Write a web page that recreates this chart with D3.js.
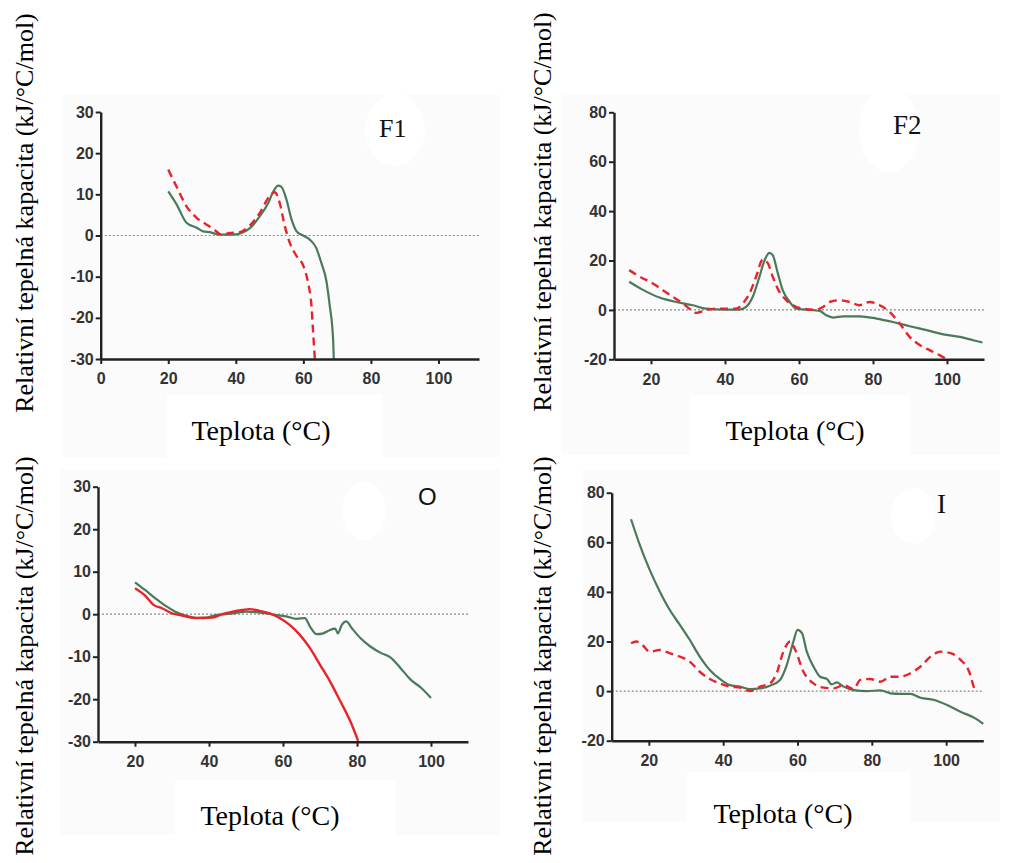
<!DOCTYPE html>
<html>
<head>
<meta charset="utf-8">
<script src="https://cdn.jsdelivr.net/npm/d3@7"></script>
<style>
  html, body { margin: 0; padding: 0; background: #fff; }
  svg { display: block; }
</style>
</head>
<body>
<svg id="chart" width="1011" height="863"></svg>
<script>
// Data: [temperature °C, relative heat capacity kJ/°C/mol]
const f1Green = [[20,10.7],[22.5,7.5],[25.4,3.1],[28.4,1.9],[30.3,1],[32.3,0.8],[35.3,0.2],[39.2,0.2],[42.2,0.8],[44.6,2.1],[47.1,4.7],[49.6,7.9],[51,10.5],[52.5,12.1],[53.5,11.8],[55,8.7],[56.5,3.9],[58,1],[59.9,0],[61.9,-1],[63.8,-3],[65.3,-6.6],[66.8,-11],[67.8,-17],[68.8,-25.2],[69,-30]];
const f1Red = [[20,16],[22.5,11.8],[25.4,7.1],[28.4,4.3],[31.3,2.7],[33.8,1.3],[35.8,0.2],[38.2,0.6],[41.2,0.8],[44.1,2.4],[47.1,5.5],[49.6,9.1],[51.5,10.5],[53,7.9],[54.5,2.3],[56,-1.8],[58,-5],[60,-7.4],[61.4,-11.5],[62.4,-17.1],[62.9,-23.6],[63.4,-30]];

const f2Green = [[14.1,11.4],[17.7,8.2],[22.3,5],[26.8,3.2],[31.3,1.9],[34.9,0.5],[40.3,0.1],[43.9,0.1],[45.7,1.2],[47.5,5.3],[49.3,13.4],[50.7,20.1],[52,23.1],[52.9,22.2],[54.3,14.7],[55.6,8],[57.5,3.2],[59.3,0.5],[62,0.1],[65.6,-0.4],[67.4,-2.2],[69.2,-3.1],[71.9,-2.6],[76.4,-2.6],[80.9,-3.5],[85.4,-4.9],[89.9,-6.6],[94.5,-8.2],[99,-9.9],[103.5,-10.9],[107.1,-12.3],[109.6,-13.2]];
const f2Red = [[14.1,16.1],[16.8,13.6],[20.5,10.7],[23.2,8],[25.9,5.3],[28.6,2.6],[30.4,0.5],[32.2,-1.2],[34.9,-0.1],[37.6,0.5],[40.3,0.5],[43,0.5],[44.8,2.6],[46.6,6.6],[48.4,13.4],[50.2,20.4],[51.6,18.8],[52.9,13.4],[54.7,7.3],[56.6,3.9],[58.4,1.9],[61.1,0.5],[64.7,0.1],[66.5,1.2],[68.3,3.2],[71,3.9],[73.7,3.2],[76.4,1.9],[79.1,3.2],[81.8,1.9],[84.5,-0.8],[87.2,-5.5],[89.9,-10.9],[92.7,-14.3],[95.4,-16.4],[98.1,-18.4],[99.7,-19.7]];

const oGreen = [[20,7.5],[22.7,5.7],[25.5,3.75],[28.2,2],[30.9,0.6],[33.6,-0.3],[36.4,-0.9],[39.1,-0.8],[41.8,-0.2],[44.5,0],[47.3,0.3],[50,0.6],[52.7,0.5],[55.5,0.2],[58.2,-0.2],[60.9,-0.5],[63.6,-1.1],[65.9,-0.9],[67.3,-2.9],[69.1,-4.7],[70.9,-4.5],[72.7,-3.7],[74.1,-3.4],[74.8,-4.5],[75.9,-2.5],[77.1,-1.7],[78.6,-3.3],[80.9,-5.6],[83.6,-7.6],[86.4,-9.1],[89.1,-10.2],[91.8,-12.7],[94.5,-15.4],[97.3,-17.3],[100,-19.7]];
const oRed = [[20,6.1],[22.7,4.4],[25,2.2],[27.3,1.4],[30,0.2],[32.7,-0.3],[35.5,-0.8],[38.2,-0.9],[40.9,-0.8],[43.6,0],[46.4,0.6],[49.1,1],[50.9,1.2],[53.6,0.8],[56.4,0.2],[59.1,-0.9],[61.8,-2.5],[64.5,-4.8],[67.3,-8],[70,-11.9],[72.7,-15.8],[75.5,-20.5],[78.2,-25.2],[80.3,-29.8]];

const iGreen = [[15.2,69.3],[17.5,59.2],[20.2,49],[22.9,40.3],[25.6,32.8],[28.3,26.8],[31,20.7],[33.7,13.9],[36.4,8.5],[39.1,4.9],[41.8,2.4],[44.5,1.8],[47.2,0.8],[49.9,1.1],[52.6,2.2],[55.3,4.5],[57.1,10.5],[58.9,20],[60,24.7],[61.2,23.4],[62.5,15.9],[64.3,9.9],[66.1,5.8],[67.9,4.9],[69.2,2.7],[70.6,3.5],[72.4,1.8],[75.1,0.4],[78.7,0],[82.3,0.3],[85,-0.9],[87.7,-1.1],[90.4,-1.1],[93.1,-2.7],[96.8,-3.6],[100.4,-5.7],[104,-8.4],[107.6,-10.8],[110,-13.2]];
const iRed = [[15.2,19.3],[16.6,20],[18.4,18.4],[20.2,15.9],[22.9,16.6],[25.6,15.3],[28.3,13.9],[31,11.9],[33.7,7.8],[36.4,4.9],[39.1,3.1],[41.8,1.8],[44.5,1.4],[47.2,0],[49.9,1.8],[52.6,3.1],[54.4,7.2],[56.2,15.9],[58,20],[59.4,16.6],[61.6,7.8],[64.3,3.1],[67,1.4],[69.8,1.1],[72.4,2.4],[75.1,0.8],[76.9,4.5],[79.6,4.9],[82.3,3.8],[85,5.8],[87.7,5.8],[90.4,7.2],[93.1,9.9],[95.8,13.9],[98.5,15.9],[101.2,15.3],[103.9,12.6],[106.2,7.8],[107.6,1.1],[108,0]];

// Tick labels
const xTicksF1 = [0, 20, 40, 60, 80, 100];
const xTicks = [20, 40, 60, 80, 100];
const yTicksSmall = [-30, -20, -10, 0, 10, 20, 30];
const yTicksLarge = [-20, 0, 20, 40, 60, 80];

const yLabelText = "Relativní tepelná kapacita (kJ/°C/mol)";
const xLabelText = "Teplota (°C)";

const GREEN = "#4b7a5b";
const RED = "#e8232b";

const panels = [
    { name: "F1", green: f1Green, red: f1Red, redDashed: true,
      xDomain: [0, 112], xRange: [100.7, 479], yDomain: [-30, 30], yRange: [359, 112],
      xTicks: xTicksF1, yTicks: yTicksSmall,
      bg: [62, 95, 438, 362], hole: [167, 395, 216, 62], blob: [395, 130, 30, 36],
      title: { x: 379, y: 137, font: "serif", size: 26 },
      yLab: { x: 33, cy: 213 }, xLab: { cx: 261, y: 440 } },
    { name: "F2", green: f2Green, red: f2Red, redDashed: true,
      xDomain: [10, 110], xRange: [614, 984], yDomain: [-20, 80], yRange: [359.3, 112.3],
      xTicks: xTicks, yTicks: yTicksLarge,
      bg: [562, 95, 438, 360], hole: [690, 395, 220, 62], blob: [889, 130, 30, 42],
      title: { x: 893, y: 134, font: "serif", size: 27 },
      yLab: { x: 551, cy: 212 }, xLab: { cx: 795, y: 440 } },
    { name: "O", green: oGreen, red: oRed, redDashed: false,
      xDomain: [10, 110], xRange: [98, 468], yDomain: [-30, 30], yRange: [741.7, 486.7],
      xTicks: xTicks, yTicks: yTicksSmall,
      bg: [60, 470, 440, 365], hole: [175, 780, 220, 60], blob: [364, 511, 22, 29],
      title: { x: 418, y: 505, font: "Liberation Sans, Arial, sans-serif", size: 24 },
      yLab: { x: 33, cy: 656 }, xLab: { cx: 270, y: 825 } },
    { name: "I", green: iGreen, red: iRed, redDashed: true,
      xDomain: [10, 110], xRange: [611.7, 983.3], yDomain: [-20, 80], yRange: [740.7, 492.7],
      xTicks: xTicks, yTicks: yTicksLarge,
      bg: [582, 470, 418, 352], hole: [687, 772, 223, 60], blob: [913, 516, 22, 28],
      title: { x: 937, y: 513, font: "serif", size: 27 },
      yLab: { x: 551, cy: 656 }, xLab: { cx: 783, y: 823 } }
];

const svg = d3.select("#chart");

panels.forEach(p => {
    const g = svg.append("g");

    // faint grey backdrop with white patches, as in the scanned figure
    g.append("rect")
        .attr("x", p.bg[0]).attr("y", p.bg[1])
        .attr("width", p.bg[2]).attr("height", p.bg[3])
        .attr("fill", "#fbfbfb");
    g.append("rect")
        .attr("x", p.hole[0]).attr("y", p.hole[1])
        .attr("width", p.hole[2]).attr("height", p.hole[3])
        .attr("fill", "#fff");
    g.append("ellipse")
        .attr("cx", p.blob[0]).attr("cy", p.blob[1])
        .attr("rx", p.blob[2]).attr("ry", p.blob[3])
        .attr("fill", "#fff");

    const x = d3.scaleLinear().domain(p.xDomain).range(p.xRange);
    const y = d3.scaleLinear().domain(p.yDomain).range(p.yRange);

    // dotted zero line
    g.append("line")
        .attr("x1", x.range()[0]).attr("x2", x.range()[1])
        .attr("y1", y(0)).attr("y2", y(0))
        .attr("stroke", "#8a8a8a")
        .attr("stroke-width", 1.2)
        .attr("stroke-dasharray", "2,2");

    const line = d3.line()
        .x(d => x(d[0]))
        .y(d => y(d[1]))
        .curve(d3.curveMonotoneX);

    g.append("path")
        .datum(p.green)
        .attr("d", line)
        .attr("fill", "none")
        .attr("stroke", GREEN)
        .attr("stroke-width", 2.2)
        .attr("stroke-linejoin", "round");

    g.append("path")
        .datum(p.red)
        .attr("d", line)
        .attr("fill", "none")
        .attr("stroke", RED)
        .attr("stroke-width", 2.4)
        .attr("stroke-dasharray", p.redDashed ? "8,5" : null)
        .attr("stroke-linejoin", "round");

    // axes (plain hyphen for negatives, as in the original)
    const fmt = d => String(d);
    const xAxis = g.append("g")
        .attr("transform", `translate(0,${y.range()[0]})`)
        .call(d3.axisBottom(x).tickValues(p.xTicks).tickFormat(fmt).tickSize(5).tickPadding(9).tickSizeOuter(0));
    const yAxis = g.append("g")
        .attr("transform", `translate(${x.range()[0]},0)`)
        .call(d3.axisLeft(y).tickValues(p.yTicks).tickFormat(fmt).tickSize(5).tickPadding(2).tickSizeOuter(0));

    [xAxis, yAxis].forEach(ax => {
        ax.select(".domain").attr("stroke", "#222").attr("stroke-width", 2.4);
        ax.selectAll(".tick line").attr("stroke", "#222").attr("stroke-width", 2);
        ax.selectAll(".tick text")
            .attr("fill", "#333")
            .style("font-family", "Liberation Sans, Arial, sans-serif")
            .style("font-size", "16px")
            .style("font-weight", "bold");
    });

    // panel tag
    g.append("text")
        .attr("x", p.title.x).attr("y", p.title.y)
        .style("font-family", p.title.font === "serif" ? "Liberation Serif, Times New Roman, serif" : p.title.font)
        .style("font-size", p.title.size + "px")
        .attr("fill", "#111")
        .text(p.name);

    // axis titles
    g.append("text")
        .attr("transform", `translate(${p.yLab.x},${p.yLab.cy}) rotate(-90)`)
        .attr("text-anchor", "middle")
        .style("font-family", "Liberation Serif, Times New Roman, serif")
        .style("font-size", "26px")
        .attr("fill", "#000")
        .text(yLabelText);

    g.append("text")
        .attr("x", p.xLab.cx).attr("y", p.xLab.y)
        .attr("text-anchor", "middle")
        .style("font-family", "Liberation Serif, Times New Roman, serif")
        .style("font-size", "28px")
        .attr("fill", "#000")
        .text(xLabelText);
});
</script>
</body>
</html>
